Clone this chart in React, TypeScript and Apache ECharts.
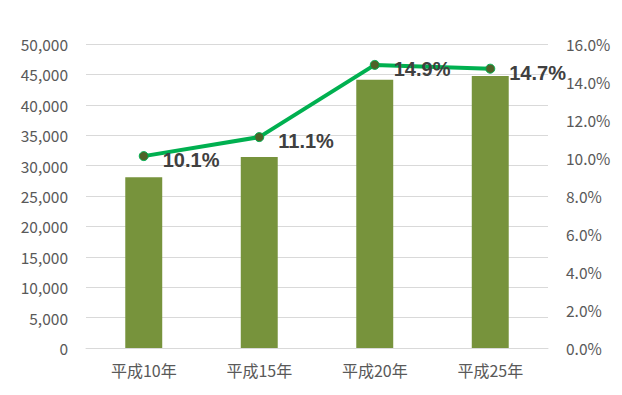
import React, { useEffect, useRef } from "react";
import * as echarts from "echarts";

const categories = ["平成10年", "平成15年", "平成20年", "平成25年"];
const barValues = [28100, 31400, 44100, 44750];
const rateValues = [10.1, 11.1, 14.9, 14.7];

export default function App() {
  const ref = useRef<HTMLDivElement>(null);
  useEffect(() => {
    document.body.style.margin = "0";
    const chart = echarts.init(ref.current!, null, { renderer: "svg" });
    const font = "'Noto Sans CJK JP', 'Open Sans', sans-serif";
    chart.setOption({
      animation: false,
      grid: { left: 86, right: 74, top: 44, bottom: 47 },
      xAxis: {
        type: "category",
        data: categories,
        axisTick: { show: false },
        axisLine: { lineStyle: { color: "#d9d9d9", width: 1 } },
        axisLabel: { color: "#595959", fontSize: 16, margin: 14, fontFamily: font },
      },
      yAxis: [
        {
          type: "value",
          min: 0,
          max: 50000,
          interval: 5000,
          axisLine: { show: false },
          axisTick: { show: false },
          splitLine: { lineStyle: { color: "#d9d9d9" } },
          axisLabel: {
            color: "#595959",
            fontSize: 15.5,
            margin: 18,
            fontFamily: font,
            formatter: (v: number) => v.toLocaleString("en-US"),
          },
        },
        {
          type: "value",
          min: 0,
          max: 16,
          interval: 2,
          axisLine: { show: false },
          axisTick: { show: false },
          splitLine: { show: false },
          axisLabel: {
            color: "#595959",
            fontSize: 15.5,
            margin: 18,
            fontFamily: font,
            formatter: (v: number) => v.toFixed(1) + "%",
          },
        },
      ],
      series: [
        {
          type: "bar",
          data: barValues,
          barWidth: "32%",
          itemStyle: { color: "#77933c" },
        },
        {
          type: "line",
          yAxisIndex: 1,
          data: rateValues,
          lineStyle: { color: "#00b050", width: 4 },
          symbol: "circle",
          symbolSize: 9,
          itemStyle: { color: "#4f6228", borderColor: "#00b050", borderWidth: 1 },
          label: {
            show: true,
            position: "right",
            distance: 14,
            offset: [0, 4],
            color: "#404040",
            fontSize: 20,
            fontWeight: "bold",
            fontFamily: "'Liberation Sans', Arial, sans-serif",
            formatter: (p: any) => p.value.toFixed(1) + "%",
          },
        },
      ],
    });
    return () => chart.dispose();
  }, []);
  return <div ref={ref} style={{ width: 622, height: 395 }} />;
}
